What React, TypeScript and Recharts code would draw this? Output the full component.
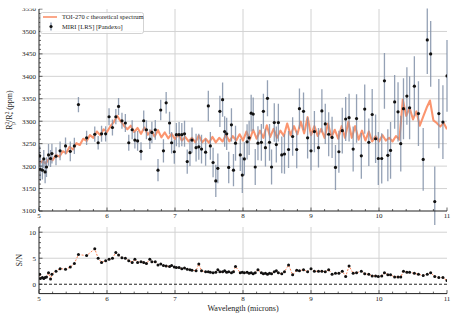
import { ComposedChart, Line, Scatter, ErrorBar, XAxis, YAxis, ReferenceLine } from "recharts";

const FONT = '"Liberation Serif", "DejaVu Serif", serif';
const INK = "#222";
const GRID = "#d2d2d2";
const MODEL = "#fa8256";
const ERR = "#8191a8";

/* ---- simulated MIRI LRS points ---- */
const wl = [
  5.01, 5.02, 5.05, 5.07, 5.09, 5.11, 5.14, 5.17, 5.19, 5.25,
  5.31, 5.39, 5.46, 5.52, 5.58, 5.7, 5.82, 5.87, 5.92, 5.98,
  6.03, 6.08, 6.13, 6.17, 6.22, 6.27, 6.32, 6.37, 6.41, 6.45,
  6.5, 6.54, 6.58, 6.63, 6.66, 6.71, 6.75, 6.79, 6.83, 6.87,
  6.92, 6.95, 6.99, 7.02, 7.06, 7.1, 7.14, 7.18, 7.22, 7.25,
  7.31, 7.35, 7.39, 7.45, 7.49, 7.52, 7.56, 7.6, 7.63, 7.66,
  7.7, 7.73, 7.76, 7.79, 7.83, 7.86, 7.89, 7.96, 7.99, 8.02,
  8.06, 8.09, 8.12, 8.15, 8.18, 8.22, 8.27, 8.3, 8.33, 8.36,
  8.39, 8.42, 8.46, 8.49, 8.52, 8.57, 8.61, 8.67, 8.73, 8.79,
  8.83, 8.89, 8.95, 9.0, 9.05, 9.11, 9.16, 9.21, 9.26, 9.31,
  9.36, 9.41, 9.46, 9.51, 9.56, 9.62, 9.67, 9.74, 9.79, 9.85,
  9.9, 9.95, 9.99, 10.04, 10.08, 10.13, 10.17, 10.23, 10.28, 10.32,
  10.36, 10.41, 10.45, 10.52, 10.58, 10.65, 10.71, 10.76, 10.82, 10.88,
  10.94, 11.0,
];

const depth = [
  3223, 3193, 3191, 3216, 3187, 3198, 3225, 3217, 3228, 3222,
  3234, 3245, 3233, 3245, 3337, 3263, 3271, 3252, 3272, 3272,
  3310, 3286, 3310, 3333, 3301, 3296, 3252, 3281, 3258, 3256,
  3233, 3301, 3281, 3260, 3275, 3281, 3191, 3325, 3234, 3341,
  3296, 3252, 3232, 3270, 3270, 3270, 3272, 3210, 3230, 3258,
  3241, 3243, 3238, 3231, 3334, 3245, 3208, 3167, 3195, 3322,
  3348, 3277, 3272, 3197, 3292, 3191, 3251, 3225, 3180, 3216,
  3254, 3263, 3318, 3316, 3198, 3251, 3253, 3322, 3241, 3351,
  3253, 3198, 3297, 3248, 3297, 3225, 3227, 3237, 3266, 3237,
  3328, 3322, 3263, 3234, 3277, 3241, 3323, 3294, 3271, 3264,
  3197, 3232, 3279, 3305, 3308, 3238, 3306, 3223, 3327, 3253,
  3315, 3261, 3217, 3217, 3390, 3224, 3235, 3343, 3321, 3250,
  3328, 3356, 3330, 3378, 3317, 3215, 3481, 3450, 3121, 3317,
  3298, 3401,
];

const depthErr = [
  23, 26, 21, 20, 25, 22, 24, 19, 22, 20,
  21, 19, 22, 18, 17, 16, 17, 15, 18, 17,
  19, 18, 17, 19, 18, 20, 18, 21, 19, 22,
  20, 23, 21, 22, 24, 22, 25, 23, 26, 24,
  25, 24, 27, 26, 28, 26, 29, 27, 30, 28,
  31, 29, 32, 30, 34, 31, 33, 36, 33, 35,
  38, 34, 36, 35, 37, 36, 39, 36, 40, 37,
  39, 38, 41, 37, 40, 38, 41, 39, 42, 40,
  41, 39, 43, 40, 42, 41, 44, 41, 43, 42,
  45, 42, 46, 43, 46, 44, 48, 45, 49, 46,
  50, 47, 51, 49, 53, 50, 54, 51, 55, 53,
  57, 54, 59, 56, 62, 58, 63, 60, 66, 62,
  68, 64, 70, 67, 72, 70, 76, 73, 78, 77,
  82, 80,
];

const snr = [
  1.9, 1.1, 1.3, 1.1, 1.3, 1.4, 2.2, 1.0, 1.9, 2.5,
  3.0, 2.9, 3.3, 4.0, 5.7, 5.5, 6.8, 5.0, 4.2, 4.5,
  4.8, 5.0, 6.1, 5.6, 5.1, 5.0, 4.5, 4.2, 4.8, 4.2,
  4.3, 4.2, 4.0, 4.8, 4.3, 4.3, 3.7, 3.9, 3.6, 3.5,
  3.4, 3.6, 3.3, 3.2, 3.2, 3.0, 3.1, 2.9, 2.8, 2.7,
  2.6, 3.9, 2.6, 2.4, 2.4, 2.3, 2.2, 2.3, 2.8, 2.4,
  2.4, 2.6, 2.3, 2.4, 2.2, 2.4, 3.4, 2.2, 2.3, 2.2,
  2.3, 2.1, 2.2, 2.0, 2.2, 2.8, 2.2, 2.0, 2.1, 1.9,
  2.1, 2.0, 2.4, 2.6, 2.2, 2.0, 2.4, 3.7, 1.8, 2.7,
  2.6, 2.8, 2.4, 3.0, 2.5, 2.5, 2.5, 2.4, 2.8, 1.9,
  2.1, 2.1, 2.5, 1.5, 3.5, 2.1, 2.2, 2.5, 2.0, 1.9,
  1.6, 1.6, 1.5, 1.6, 2.2, 1.8, 1.8, 1.4, 1.4, 1.4,
  2.5, 2.3, 2.3, 2.1, 1.9, 1.7, 1.9, 2.2, 1.5, 1.3,
  1.3, 0.7,
];

/* ---- TOI-270 c model spectrum ---- */
const modelWl = [
  5.0, 5.05, 5.1, 5.15, 5.2, 5.25, 5.3, 5.35, 5.4, 5.45,
  5.5, 5.55, 5.6, 5.65, 5.7, 5.75, 5.8, 5.85, 5.9, 5.95,
  6.0, 6.05, 6.1, 6.15, 6.2, 6.25, 6.3, 6.35, 6.4, 6.45,
  6.5, 6.55, 6.6, 6.65, 6.7, 6.75, 6.8, 6.85, 6.9, 6.95,
  7.0, 7.05, 7.1, 7.15, 7.2, 7.25, 7.3, 7.35, 7.4, 7.45,
  7.5, 7.55, 7.6, 7.65, 7.7, 7.75, 7.8, 7.85, 7.9, 7.95,
  8.0, 8.05, 8.1, 8.15, 8.2, 8.25, 8.3, 8.35, 8.4, 8.45,
  8.5, 8.55, 8.6, 8.65, 8.7, 8.75, 8.8, 8.85, 8.9, 8.95,
  9.0, 9.05, 9.1, 9.15, 9.2, 9.25, 9.3, 9.35, 9.4, 9.45,
  9.5, 9.55, 9.6, 9.65, 9.7, 9.75, 9.8, 9.85, 9.9, 9.95,
  10.0, 10.05, 10.1, 10.15, 10.2, 10.25, 10.3, 10.35, 10.4, 10.45,
  10.5, 10.55, 10.6, 10.65, 10.7, 10.75, 10.8, 10.85, 10.9, 10.95,
  11.0,
];

const modelDepth = [
  3205, 3211, 3206, 3217, 3213, 3225, 3221, 3233, 3229, 3243,
  3237, 3251, 3247, 3261, 3256, 3269, 3263, 3277, 3269, 3282,
  3276, 3289, 3298, 3312, 3300, 3290, 3282, 3290, 3276, 3285,
  3272, 3286, 3270, 3279, 3266, 3280, 3264, 3275, 3262, 3272,
  3260, 3271, 3257, 3265, 3255, 3263, 3253, 3268, 3253, 3261,
  3252, 3265, 3253, 3263, 3255, 3270, 3255, 3267, 3257, 3271,
  3257, 3277, 3259, 3281, 3261, 3279, 3263, 3291, 3265, 3283,
  3263, 3279, 3267, 3295, 3269, 3289, 3271, 3299, 3273, 3309,
  3269, 3289, 3267, 3283, 3263, 3295, 3265, 3281, 3261, 3289,
  3263, 3299, 3263, 3289, 3259, 3279, 3257, 3277, 3255, 3267,
  3255, 3269, 3257, 3263, 3255, 3267, 3259, 3348, 3312, 3330,
  3304, 3322, 3290, 3310, 3330, 3346, 3302, 3296, 3288, 3296,
  3282,
];

const xMajor = [5, 6, 7, 8, 9, 10, 11];
const depthMajor = [3100, 3150, 3200, 3250, 3300, 3350, 3400, 3450, 3500, 3550];
const snrMajor = [0, 5, 10];

const points = wl.map((w, i) => ({ w, d: depth[i], e: depthErr[i] }));
const snrPoints = wl.map((w, i) => ({ w, s: snr[i] }));
const model = modelWl.map((w, i) => ({ w, d: modelDepth[i] }));

// minor tick positions between the majors
const steps = (lo: number, hi: number, step: number) => {
  const out: number[] = [];
  for (let v = lo; v <= hi + 1e-9; v += step) out.push(+v.toFixed(4));
  return out;
};
const xTicks = steps(5, 11, 0.2);
const depthTicks = steps(3100, 3550, 10);
const snrTicks = steps(-1, 11, 1);

const isMajor = (v: number, majors: number[]) => majors.some((m) => Math.abs(m - v) < 1e-6);
const tickText = { fontFamily: FONT, fontSize: 7, fill: INK };

const bottomTick = (majors: number[], gap: number) => (p: any) => {
  const v = p.payload.value;
  const big = isMajor(v, majors);
  const ay = p.y - gap;
  return (
    <g>
      <line x1={p.x} x2={p.x} y1={ay} y2={ay - (big ? 3.5 : 2)} stroke={INK} strokeWidth={0.7} />
      {big && (
        <text x={p.x} y={p.y} dy="0.75em" textAnchor="middle" {...tickText}>
          {v}
        </text>
      )}
    </g>
  );
};

const topTick = (majors: number[]) => (p: any) => {
  const big = isMajor(p.payload.value, majors);
  return <line x1={p.x} x2={p.x} y1={p.y} y2={p.y + (big ? 3.5 : 2)} stroke={INK} strokeWidth={0.7} />;
};

const leftTick = (majors: number[], gap: number) => (p: any) => {
  const v = p.payload.value;
  const big = isMajor(v, majors);
  const ax = p.x + gap;
  return (
    <g>
      <line x1={ax} x2={ax + (big ? 3.5 : 2)} y1={p.y} y2={p.y} stroke={INK} strokeWidth={0.7} />
      {big && (
        <text x={p.x} y={p.y} dy="0.35em" textAnchor="end" {...tickText}>
          {v}
        </text>
      )}
    </g>
  );
};

const rightTick = (majors: number[]) => (p: any) => {
  const big = isMajor(p.payload.value, majors);
  return <line x1={p.x} x2={p.x - (big ? 3.5 : 2)} y1={p.y} y2={p.y} stroke={INK} strokeWidth={0.7} />;
};

const frame = { stroke: INK, strokeWidth: 1 };

const DepthLabel = (props: any) => {
  const vb = props.viewBox;
  const cx = vb.x + 12;
  const cy = vb.y + vb.height / 2;
  return (
    <text x={cx} y={cy} transform={`rotate(-90 ${cx} ${cy})`} textAnchor="middle" fontFamily={FONT} fontSize={8} fill={INK}>
      R<tspan dy={-3} fontSize={5.5}>2</tspan>
      <tspan dx={-3} dy={5.5} fontSize={5.5}>p</tspan>
      <tspan dy={-2.5}>/R</tspan>
      <tspan dy={-3} fontSize={5.5}>2</tspan>
      <tspan dx={-3} dy={5.5} fontSize={5.5}>*</tspan>
      <tspan dy={-2.5}> (ppm)</tspan>
    </text>
  );
};

const SnrLabel = (props: any) => {
  const vb = props.viewBox;
  const cx = vb.x + 22;
  const cy = vb.y + vb.height / 2;
  return (
    <text x={cx} y={cy} transform={`rotate(-90 ${cx} ${cy})`} textAnchor="middle" fontFamily={FONT} fontSize={8} fill={INK}>
      S/N
    </text>
  );
};

const WaveLabel = (props: any) => {
  const vb = props.viewBox;
  return (
    <text x={vb.x + vb.width / 2} y={vb.y + 15} dy="0.35em" textAnchor="middle" fontFamily={FONT} fontSize={8} fill={INK}>
      Wavelength (microns)
    </text>
  );
};

const blackDot = (p: any) => <circle cx={p.cx} cy={p.cy} r={1.6} fill="#111" />;

export default function App() {
  return (
    <div style={{ position: "absolute", left: 0, top: 0, width: 457, height: 320, background: "#fff" }}>
      {/* transit depth panel; clip keeps long error bars inside the frame */}
      <div style={{ position: "absolute", left: 0, top: 0, clipPath: "inset(8.5px 0 0 0)" }}>
        <ComposedChart width={457} height={225} margin={{ top: 9, right: 10, bottom: 0, left: 0 }}>
          <XAxis xAxisId="t" orientation="top" type="number" domain={[5, 11]} allowDataOverflow ticks={xTicks} interval={0}
            height={0} tickSize={0} tickMargin={0} tickLine={false} axisLine={frame} tick={topTick(xMajor)} />
          <XAxis dataKey="w" type="number" domain={[5, 11]} allowDataOverflow ticks={xTicks} interval={0}
            height={14} tickSize={0} tickMargin={2} tickLine={false} axisLine={frame} tick={bottomTick(xMajor, 2)} />
          <YAxis yAxisId="r" orientation="right" type="number" domain={[3100, 3550]} allowDataOverflow ticks={depthTicks} interval={0}
            width={0} tickSize={0} tickMargin={0} tickLine={false} axisLine={frame} tick={rightTick(depthMajor)} />
          <YAxis type="number" domain={[3100, 3550]} allowDataOverflow ticks={depthTicks} interval={0}
            width={39} tickSize={0} tickMargin={3} tickLine={false} axisLine={frame} tick={leftTick(depthMajor, 3)}
            label={<DepthLabel />} />
          {xMajor.slice(1, -1).map((v) => (
            <ReferenceLine key={"gx" + v} x={v} stroke={GRID} strokeWidth={1} />
          ))}
          {depthMajor.slice(1, -1).map((v) => (
            <ReferenceLine key={"gy" + v} y={v} stroke={GRID} strokeWidth={1} />
          ))}
          <Line data={model} dataKey="d" type="linear" stroke={MODEL} strokeWidth={2.1} strokeOpacity={0.85} strokeLinejoin="round" dot={false} isAnimationActive={false} />
          <Scatter data={points} dataKey="d" shape={blackDot} isAnimationActive={false}>
            <ErrorBar dataKey="e" direction="y" width={0} stroke={ERR} strokeWidth={1.3} strokeOpacity={0.85} />
          </Scatter>
        </ComposedChart>
      </div>

      {/* signal-to-noise panel */}
      <div style={{ position: "absolute", left: 0, top: 215 }}>
        <ComposedChart width={457} height={105} margin={{ top: 12, right: 10, bottom: 0, left: 0 }}>
          <XAxis xAxisId="t" orientation="top" type="number" domain={[5, 11]} allowDataOverflow ticks={xTicks} interval={0}
            height={0} tickSize={0} tickMargin={0} tickLine={false} axisLine={frame} tick={topTick(xMajor)} />
          <XAxis dataKey="w" type="number" domain={[5, 11]} allowDataOverflow ticks={xTicks} interval={0}
            height={26.4} tickSize={0} tickMargin={2} tickLine={false} axisLine={frame} tick={bottomTick(xMajor, 2)}
            label={<WaveLabel />} />
          <YAxis yAxisId="r" orientation="right" type="number" domain={[-1.8, 11]} allowDataOverflow ticks={snrTicks} interval={0}
            width={0} tickSize={0} tickMargin={0} tickLine={false} axisLine={frame} tick={rightTick(snrMajor)} />
          <YAxis type="number" domain={[-1.8, 11]} allowDataOverflow ticks={snrTicks} interval={0}
            width={39} tickSize={0} tickMargin={3} tickLine={false} axisLine={frame} tick={leftTick(snrMajor, 3)}
            label={<SnrLabel />} />
          {xMajor.slice(1, -1).map((v) => (
            <ReferenceLine key={"sx" + v} x={v} stroke={GRID} strokeWidth={1} />
          ))}
          {[5, 10].map((v) => (
            <ReferenceLine key={"sy" + v} y={v} stroke={GRID} strokeWidth={1} />
          ))}
          <ReferenceLine y={0} stroke={INK} strokeWidth={1} strokeDasharray="3 2" />
          <Line data={snrPoints} dataKey="s" type="linear" stroke={MODEL} strokeWidth={1} strokeDasharray="2 1.5"
            dot={{ r: 1.5, fill: "#111", stroke: "none", strokeDasharray: "0" }} isAnimationActive={false} />
        </ComposedChart>
      </div>

      {/* legend */}
      <svg style={{ position: "absolute", left: 40, top: 12 }} width={104} height={22}>
        <rect x={0.5} y={0.5} width={103} height={21} rx={2} fill="#fff" fillOpacity={0.85} stroke="#c8c8c8" strokeWidth={0.8} />
        <line x1={3} x2={17} y1={5} y2={5} stroke={MODEL} strokeWidth={1.4} />
        <text x={22} y={5} dy="0.35em" fontFamily={FONT} fontSize={6.5} fill={INK}>
          TOI-270 c theoretical spectrum
        </text>
        <line x1={11} x2={11} y1={10.5} y2={18.5} stroke={ERR} strokeWidth={1.3} />
        <circle cx={11} cy={14.5} r={1.6} fill="#111" />
        <text x={22} y={14.5} dy="0.35em" fontFamily={FONT} fontSize={6.5} fill={INK}>
          MIRI [LRS] [Pandexo]
        </text>
      </svg>
    </div>
  );
}
